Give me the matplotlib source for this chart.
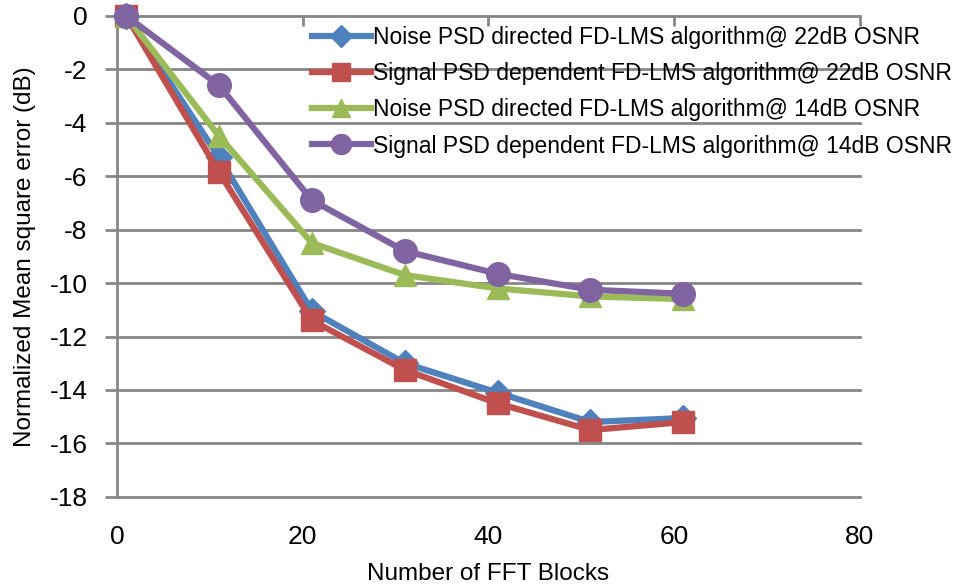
import matplotlib
matplotlib.use("Agg")
import matplotlib.pyplot as plt

plt.rcParams["font.family"] = ["Liberation Sans", "DejaVu Sans"]
plt.rcParams["axes.unicode_minus"] = False

blocks = [1, 11, 21, 31, 41, 51, 61]
noise_22 = [0, -5.3, -11.05, -13.0, -14.1, -15.2, -15.05]
signal_22 = [0, -5.85, -11.4, -13.25, -14.5, -15.5, -15.2]
noise_14 = [0, -4.5, -8.5, -9.7, -10.2, -10.5, -10.6]
signal_14 = [0, -2.6, -6.9, -8.8, -9.65, -10.25, -10.4]

labels = [
    "Noise PSD directed FD-LMS algorithm@ 22dB OSNR",
    "Signal PSD dependent FD-LMS algorithm@ 22dB OSNR",
    "Noise PSD directed FD-LMS algorithm@ 14dB OSNR",
    "Signal PSD dependent FD-LMS algorithm@ 14dB OSNR",
]
colors = ["#4F81BD", "#C0504D", "#9BBB59", "#8064A2"]
markers = ["D", "s", "^", "o"]
sizes = [13, 16, 16, 17]

GRID = "#868686"

fig = plt.figure(figsize=(9.66, 5.88), dpi=100)
ax = fig.add_axes([0.121, 0.155, 0.769, 0.818])

for ys, lab, c, m, ms in zip([noise_22, signal_22, noise_14, signal_14], labels, colors, markers, sizes):
    ax.plot(blocks, ys, color=c, lw=4.5, marker=m, ms=ms, mec=c, label=lab, clip_on=False, zorder=3)

ax.set_xlim(0, 80)
ax.set_ylim(-18, 0)
ax.set_xticks(range(0, 81, 20))
ax.set_yticks(range(-18, 1, 2))
for yv in range(-18, 0, 2):
    ax.axhline(yv, color=GRID, lw=2, zorder=0, clip_on=False)

for side in ["right", "bottom"]:
    ax.spines[side].set_visible(False)
for side in ["left", "top"]:
    ax.spines[side].set_color(GRID)
    ax.spines[side].set_linewidth(2)

# the x axis line sits at y=0, labels go below the plot
ax.tick_params(axis="x", top=True, bottom=False, labeltop=False, labelbottom=True,
               direction="in", length=7, width=2, color=GRID, pad=20, labelsize=19)
ax.tick_params(axis="y", direction="out", length=9, width=2, color=GRID, pad=12, labelsize=19)

ax.set_xlabel("Number of FFT Blocks", fontsize=17.5, labelpad=10)
ax.set_ylabel("Normalized Mean square error (dB)", fontsize=17.5, labelpad=10)

fig.legend(loc="upper left", bbox_to_anchor=(0.313, 0.972), frameon=False, fontsize=16.5,
           handlelength=2.6, handletextpad=0.1, labelspacing=0.58, borderaxespad=0,
           markerscale=0.85)

fig.savefig("out.png", dpi=100)
